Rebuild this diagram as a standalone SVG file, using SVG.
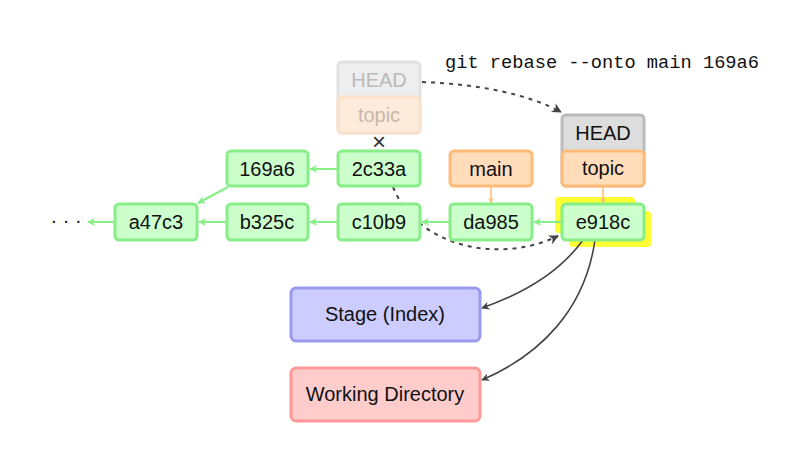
<svg xmlns="http://www.w3.org/2000/svg" width="790" height="474" viewBox="0 0 790 474">
<defs>
<style>
.t{font-family:"Liberation Sans",Arial,sans-serif;font-size:20px;text-anchor:middle;fill:#111}
.g{fill:#ccffcc;stroke:#88ee88;stroke-width:3}
.o{fill:#ffddbb;stroke:#ffbb77;stroke-width:3}
.h{fill:#dddddd;stroke:#bbbbbb;stroke-width:3}
.ga{stroke:#88ee88;stroke-width:2;fill:none;marker-end:url(#mg)}
.oa{stroke:#ffbb77;stroke-width:1.5;fill:none;marker-end:url(#mo)}
.da{stroke:#444;stroke-width:2;fill:none;stroke-dasharray:4 5;marker-end:url(#md)}
.sa{stroke:#444;stroke-width:1.6;fill:none;marker-end:url(#md)}
</style>
<marker id="mg" viewBox="0 0 10 10" refX="9" refY="5" markerWidth="4" markerHeight="4" orient="auto"><path d="M0,0 L10,5 L0,10 L3,5 Z" fill="#88ee88"/></marker>
<marker id="mo" viewBox="0 0 10 10" refX="9" refY="5" markerWidth="4" markerHeight="4" orient="auto"><path d="M0,0 L10,5 L0,10 L3,5 Z" fill="#ffbb77"/></marker>
<marker id="md" viewBox="0 0 10 10" refX="9" refY="5" markerWidth="5" markerHeight="5" orient="auto"><path d="M0,0 L10,5 L0,10 L3,5 Z" fill="#444"/></marker>
</defs>
<rect width="790" height="474" fill="#fff"/>

<g id="highlight">
<rect x="555" y="197" width="80" height="36" rx="4" fill="#ffff33"/>
<rect x="569" y="211" width="82" height="36" rx="4" fill="#ffff33"/>
</g>

<g id="connectors">
<path class="ga" d="M562,222 L534,222"/>
<path class="ga" d="M450,222 L422,222"/>
<path class="ga" d="M338,222 L310,222"/>
<path class="ga" d="M227,222 L199,222"/>
<path class="ga" d="M115,222 L88,222"/>
<path class="ga" d="M338,169 L310,169"/>
<path class="ga" d="M228,187 L198,203"/>
<path class="oa" d="M491,187 L491,203"/>
<path class="oa" d="M603,187 L603,203"/>
<path class="da" d="M422,82 C480,84 530,95 561,112"/>
<path class="da" d="M393,187 C418,248 500,264 558,236"/>
<path class="sa" d="M583,240 C560,272 522,294 482,308"/>
<path class="sa" d="M595,240 C585,310 540,355 482,380"/>
</g>

<g id="dots"><text x="66" y="227" class="t">· · ·</text></g>

<g id="a47c3"><rect class="g" x="115" y="204" width="82" height="36" rx="4"/><text class="t" x="156" y="229">a47c3</text></g>
<g id="b325c"><rect class="g" x="227" y="204" width="81" height="36" rx="4"/><text class="t" x="267" y="229">b325c</text></g>
<g id="c10b9"><rect class="g" x="338" y="204" width="82" height="36" rx="4"/><text class="t" x="379" y="229">c10b9</text></g>
<g id="da985"><rect class="g" x="450" y="204" width="82" height="36" rx="4"/><text class="t" x="491" y="229">da985</text></g>
<g id="e918c"><rect class="g" x="562" y="204" width="82" height="36" rx="4"/><text class="t" x="603" y="229">e918c</text></g>
<g id="n169a6"><rect class="g" x="227" y="151" width="81" height="35" rx="4"/><text class="t" x="267" y="176">169a6</text></g>
<g id="n2c33a"><rect class="g" x="338" y="151" width="82" height="35" rx="4"/><text class="t" x="379" y="176">2c33a</text></g>
<g id="main"><rect class="o" x="450" y="151" width="82" height="35" rx="4"/><text class="t" x="491" y="176">main</text></g>

<g id="old-head">
<rect x="338" y="62" width="82" height="71" rx="4" fill="#eeeeee" stroke="#e2e2e2" stroke-width="3"/>
<rect x="338" y="97" width="82" height="36" rx="4" fill="#fdebdb" stroke="#fbe1c9" stroke-width="3"/>
<text class="t" x="379" y="87" style="fill:#bbbbbb">HEAD</text>
<text class="t" x="379" y="122" style="fill:#c8b8aa">topic</text>
</g>
<g id="cross"><text class="t" x="379" y="150" style="font-size:24px;fill:#333">×</text></g>

<g id="head">
<rect class="h" x="562" y="115" width="82" height="71" rx="4"/>
<rect class="o" x="562" y="151" width="82" height="35" rx="4"/>
<text class="t" x="603" y="140">HEAD</text>
<text class="t" x="603" y="175">topic</text>
</g>

<g id="stage"><rect x="291" y="288" width="189" height="53" rx="5" fill="#ccccff" stroke="#9999ee" stroke-width="3"/><text class="t" x="385" y="321">Stage (Index)</text></g>
<g id="workdir"><rect x="291" y="368" width="189" height="53" rx="5" fill="#ffcccc" stroke="#ff9999" stroke-width="3"/><text class="t" x="385" y="401">Working Directory</text></g>

<g id="command"><text x="445" y="68" style="font-family:'Liberation Mono','Courier New',monospace;font-size:18.7px;fill:#111">git rebase --onto main 169a6</text></g>
</svg>
